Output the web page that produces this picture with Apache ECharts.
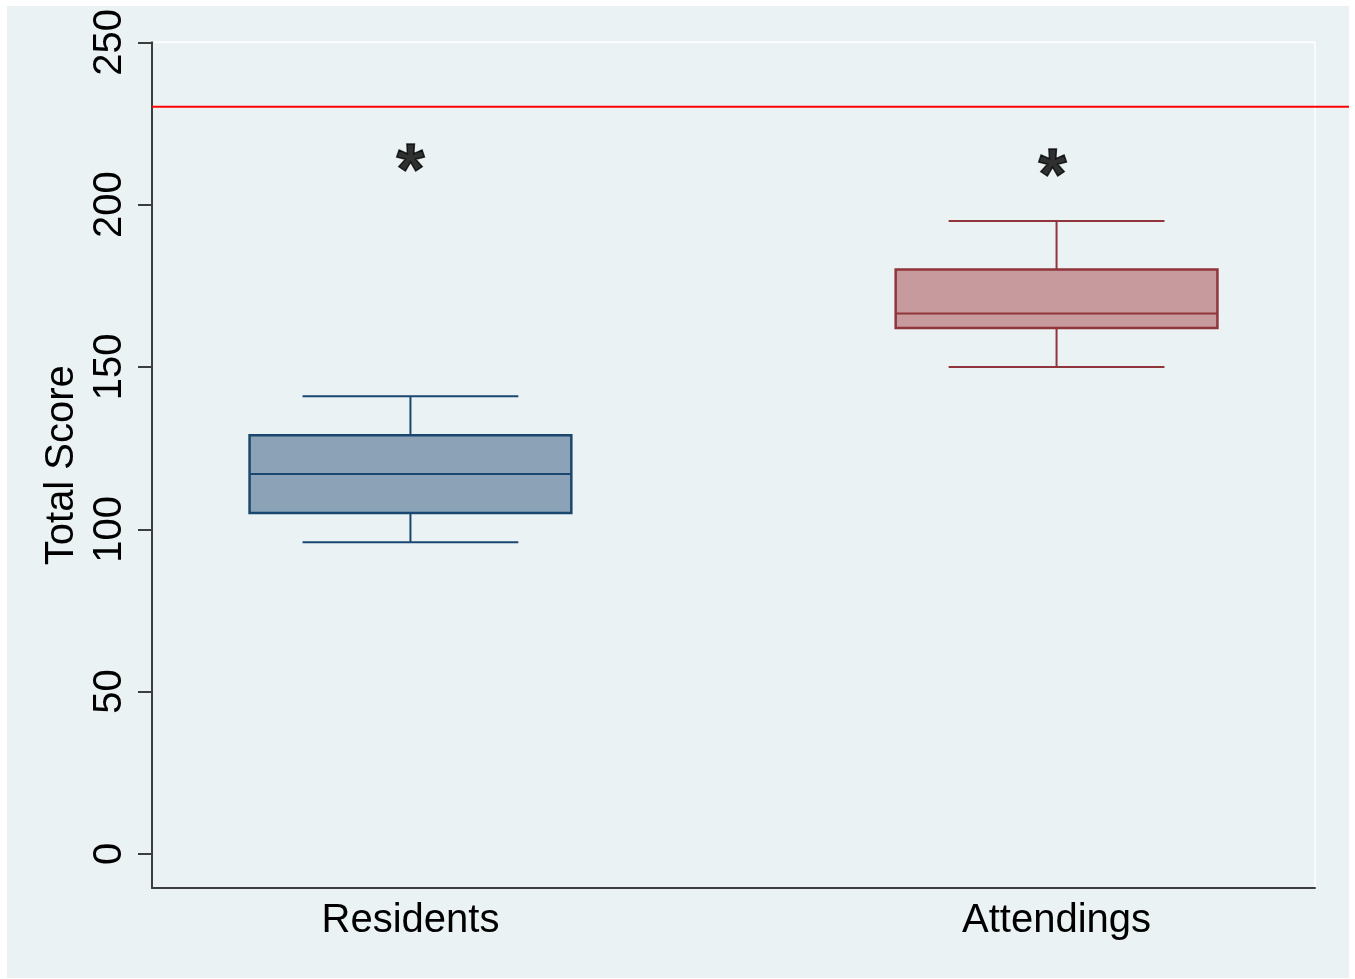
<!DOCTYPE html>
<html>
<head>
<meta charset="utf-8">
<script src="https://cdn.jsdelivr.net/npm/echarts@6/dist/echarts.min.js"></script>
<style>
  html, body { margin: 0; padding: 0; background: #ffffff; }
  #chart { position: absolute; left: 7px; top: 6px; width: 1342px; height: 972px; }
</style>
</head>
<body>
<div id="chart"></div>
<script>
// box plot values per group
const categories = ['', '', 'Residents', '', '', '', '', 'Attendings', '', ''];
const groupIndex = [2, 7];
const lowWhisker = [96, 150];
const q1 = [105, 162];
const median = [117, 166.5];
const q3 = [129, 180];
const highWhisker = [141, 195];
const starValues = [213, 211.5];
const refLine = 229.5;
const yTicks = [0, 50, 100, 150, 200, 250];

const FONT = '"Liberation Sans", Arial, Helvetica, sans-serif';
const groupColors = [
    { stroke: '#1a476f', fill: '#8ca3b7' },
    { stroke: '#90353b', fill: '#c79a9d' }
];
const starOffsets = [[0, 12], [-4, 12]];

const boxData = groupIndex.map((g, i) => [g, lowWhisker[i], q1[i], median[i], q3[i], highWhisker[i], i]);
const starData = groupIndex.map((g, i) => ({ value: [g, starValues[i]], label: { offset: starOffsets[i] } }));

function renderBox(params, api) {
    const x = api.value(0);
    const unit = api.size([1, 0])[0];
    const boxHalf = unit * 1.245;
    const capHalf = unit * 0.835;
    const col = groupColors[api.value(6)];
    const pLow = api.coord([x, api.value(1)]);
    const pQ1 = api.coord([x, api.value(2)]);
    const pMed = api.coord([x, api.value(3)]);
    const pQ3 = api.coord([x, api.value(4)]);
    const pHigh = api.coord([x, api.value(5)]);
    const cx = pQ1[0];
    const line = { stroke: col.stroke, lineWidth: 2 };
    return {
        type: 'group',
        children: [
            { type: 'line', shape: { x1: cx, y1: pQ1[1], x2: cx, y2: pLow[1] }, style: line },
            { type: 'line', shape: { x1: cx, y1: pQ3[1], x2: cx, y2: pHigh[1] }, style: line },
            { type: 'line', shape: { x1: cx - capHalf, y1: pLow[1], x2: cx + capHalf, y2: pLow[1] }, style: line },
            { type: 'line', shape: { x1: cx - capHalf, y1: pHigh[1], x2: cx + capHalf, y2: pHigh[1] }, style: line },
            {
                type: 'rect',
                shape: { x: cx - boxHalf, y: pQ3[1], width: boxHalf * 2, height: pQ1[1] - pQ3[1] },
                style: { fill: col.fill, stroke: col.stroke, lineWidth: 2.5 }
            },
            { type: 'line', shape: { x1: cx - boxHalf, y1: pMed[1], x2: cx + boxHalf, y2: pMed[1] }, style: line }
        ]
    };
}

const chart = echarts.init(document.getElementById('chart'));
chart.setOption({
    animation: false,
    backgroundColor: '#eaf2f3',
    textStyle: { fontFamily: FONT },
    grid: [
        { left: 145, right: 34, top: 34, bottom: 90, show: true, borderColor: '#ffffff', borderWidth: 1.5, backgroundColor: 'transparent' },
        { left: 145, right: 0, top: 34, bottom: 90 }
    ],
    xAxis: [
        {
            type: 'category',
            gridIndex: 0,
            data: categories,
            boundaryGap: false,
            axisLine: { onZero: false, lineStyle: { color: '#3d3d3d', width: 2 } },
            axisTick: { show: false },
            splitLine: { show: false },
            axisLabel: { interval: 0, color: '#000', fontSize: 40, fontFamily: FONT, margin: 13 }
        },
        { type: 'value', gridIndex: 1, min: 0, max: 1, show: false }
    ],
    yAxis: [
        {
            type: 'value',
            gridIndex: 0,
            min: -10.5,
            max: 250,
            name: 'Total Score',
            nameLocation: 'middle',
            nameGap: 66,
            nameTextStyle: { color: '#000', fontSize: 40, fontFamily: FONT },
            axisLine: { show: true, onZero: false, lineStyle: { color: '#3d3d3d', width: 2 } },
            axisTick: { show: true, length: 14, customValues: yTicks, lineStyle: { color: '#3d3d3d', width: 2 } },
            axisLabel: { rotate: 90, customValues: yTicks, color: '#000', fontSize: 40, fontFamily: FONT, margin: 22 },
            splitLine: { show: false }
        },
        { type: 'value', gridIndex: 1, min: -10.5, max: 250, show: false }
    ],
    series: [
        {
            type: 'custom',
            xAxisIndex: 0,
            yAxisIndex: 0,
            renderItem: renderBox,
            encode: { x: 0, y: [1, 2, 3, 4, 5] },
            data: boxData,
            z: 3
        },
        {
            type: 'scatter',
            xAxisIndex: 0,
            yAxisIndex: 0,
            symbolSize: 1,
            itemStyle: { color: 'transparent' },
            label: {
                show: true,
                position: 'inside',
                formatter: '*',
                color: '#000000',
                textBorderColor: '#000000',
                textBorderWidth: 1.5,
                fontSize: 72,
                fontWeight: 'bold',
                fontFamily: FONT
            },
            data: starData
        },
        {
            type: 'line',
            xAxisIndex: 1,
            yAxisIndex: 1,
            symbol: 'none',
            lineStyle: { color: '#ff0000', width: 2 },
            data: [[0, refLine], [1, refLine]]
        }
    ]
});
</script>
</body>
</html>
